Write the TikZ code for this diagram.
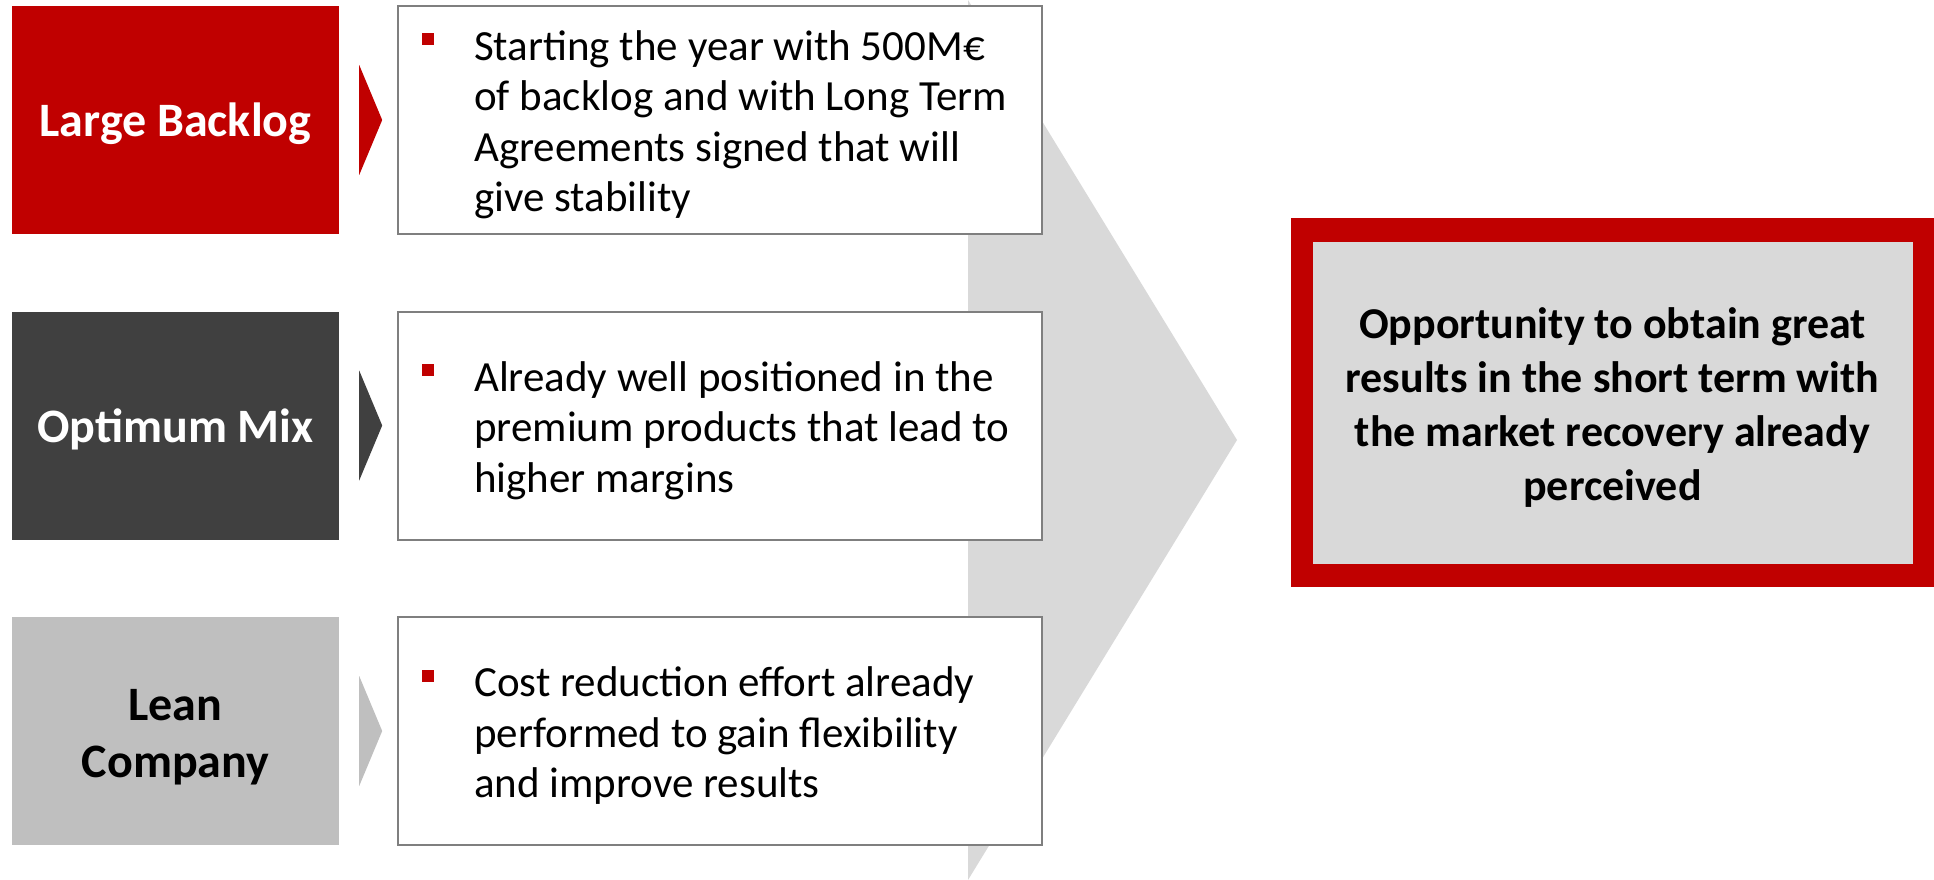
\documentclass[tikz,border=0pt]{standalone}
\usepackage{fontspec}
\setmainfont{Carlito}
\usetikzlibrary{calc}
\definecolor{bred}{HTML}{C00000}
\definecolor{dgray}{HTML}{404040}
\definecolor{lgray}{HTML}{BFBFBF}
\definecolor{cgray}{HTML}{D9D9D9}
\definecolor{bgray}{HTML}{7F7F7F}
\newcommand\bulsq{\llap{\textcolor{bred}{\rule[15pt]{12pt}{12pt}}\hspace{40pt}}}
\tikzset{
  leftbox/.style={draw=none, minimum width=327pt, minimum height=228pt, inner sep=0pt},
  leftlabel/.style={inner sep=0pt, align=center, font=\fontsize{48}{57}\selectfont\bfseries},
  textbox/.style={draw=bgray, line width=2pt, fill=white, minimum width=644pt, minimum height=228pt, inner sep=0pt},
  bodytext/.style={anchor=west, inner sep=0pt, align=left, font=\fontsize{43}{50.5}\selectfont},
}
\begin{document}
\begin{tikzpicture}[x=1pt,y=-1pt]
\path[use as bounding box] (0,0) rectangle (1934,880);
% big chevron
\fill[cgray] (968,0) -- (1237,440) -- (968,880) -- cycle;
% left boxes
\node[leftbox, fill=bred] (lb1) at (175.5,120) {};
\node[leftbox, fill=dgray] (lb2) at (175.5,425.5) {};
\node[leftbox, fill=lgray] (lb3) at (175.5,731) {};
\node[leftlabel, text=white] (ll1) at ($(lb1.center)+(0,4)$) {Large Backlog};
\node[leftlabel, text=white] (ll2) at ($(lb2.center)+(0,4)$) {Optimum Mix};
\node[leftlabel, text=black] (ll3) at ($(lb3.center)+(0,6)$) {Lean\\Company};
% small triangles
\fill[bred] ($(lb1.east)+(20,-55)$) -- ($(lb1.east)+(43,0)$) -- ($(lb1.east)+(20,55)$) -- cycle;
\fill[dgray] ($(lb2.east)+(20,-55)$) -- ($(lb2.east)+(43,0)$) -- ($(lb2.east)+(20,55)$) -- cycle;
\fill[lgray] ($(lb3.east)+(20,-55)$) -- ($(lb3.east)+(43,0)$) -- ($(lb3.east)+(20,55)$) -- cycle;
% text boxes
\node[textbox] (tb1) at (720,120) {};
\node[textbox] (tb2) at (720,425.5) {};
\node[textbox] (tb3) at (720,731) {};
\node[bodytext] (tx1) at ($(tb1.west)+(77,5)$) {\bulsq Starting the year with 500M€\\of backlog and with Long Term\\Agreements signed that will\\give stability};
\node[bodytext] (tx2) at ($(tb2.west)+(77,5)$) {\bulsq Already well positioned in the\\premium products that lead to\\higher margins};
\node[bodytext] (tx3) at ($(tb3.west)+(77,5)$) {\bulsq Cost reduction effort already\\performed to gain flexibility\\and improve results};
% result box
\node[fill=bred, minimum width=643pt, minimum height=369pt, inner sep=0pt] (rb) at (1612.5,402.5) {};
\node[fill=cgray, minimum width=600pt, minimum height=322pt, inner sep=0pt] (rg) at (rb.center) {};
\node[inner sep=0pt, align=center, font=\fontsize{44}{54}\selectfont\bfseries] (rt) at ($(rg.center)+(0,5)$) {Opportunity to obtain great\\results in the short term with\\the market recovery already\\perceived};
\end{tikzpicture}
\end{document}
